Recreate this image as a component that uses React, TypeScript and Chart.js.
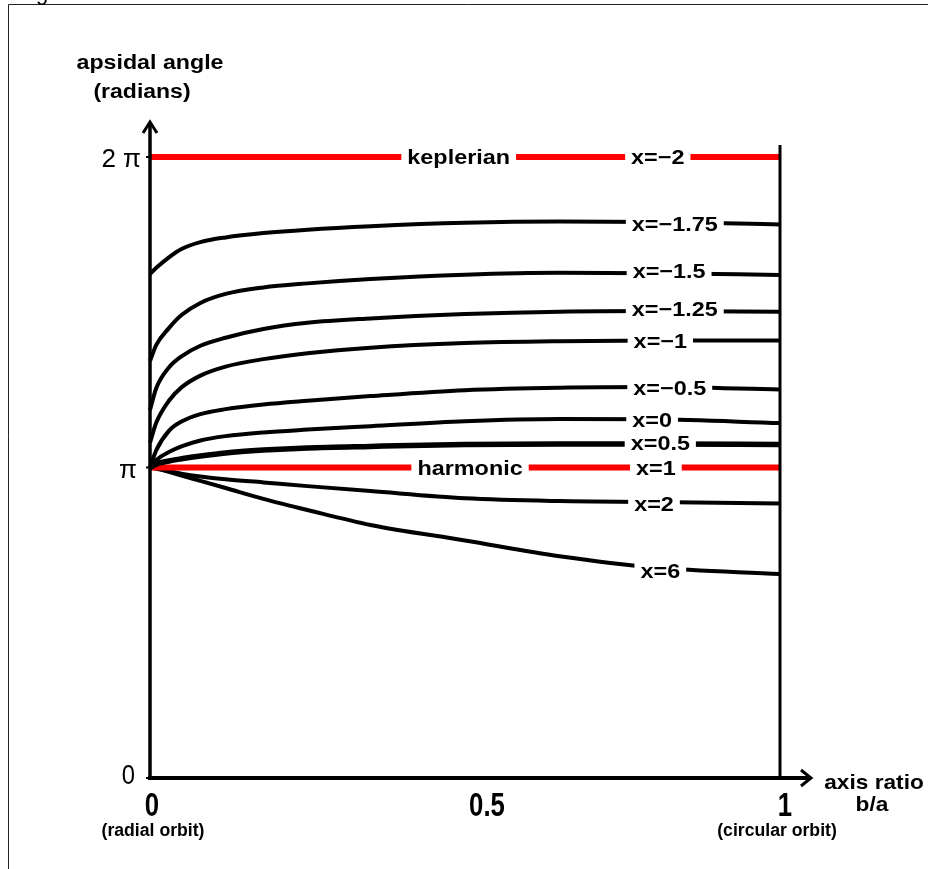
import React, { useEffect, useRef } from 'react';
import { Chart, registerables } from 'chart.js';
Chart.register(...registerables);

// b/a axis ratio sample positions
const BA = [0, 0.01, 0.03, 0.05, 0.08, 0.12, 0.18, 0.25, 0.35, 0.5, 0.65, 0.8, 1.0];

// apsidal angle in units of pi
const X_M2 = [2, 2, 2, 2, 2, 2, 2, 2, 2, 2, 2, 2, 2];
const X_M175 = [1.623, 1.643, 1.677, 1.704, 1.726, 1.741, 1.755, 1.766, 1.777, 1.788, 1.792, 1.791, 1.783];
const X_M15 = [1.343, 1.395, 1.449, 1.491, 1.530, 1.559, 1.580, 1.593, 1.607, 1.621, 1.627, 1.626, 1.620];
const X_M125 = [1.185, 1.256, 1.322, 1.358, 1.392, 1.418, 1.446, 1.466, 1.480, 1.494, 1.502, 1.504, 1.502];
const X_M1 = [1.08, 1.145, 1.215, 1.258, 1.296, 1.325, 1.349, 1.368, 1.386, 1.401, 1.407, 1.409, 1.409];
const X_M05 = [1.0, 1.056, 1.118, 1.148, 1.172, 1.188, 1.203, 1.215, 1.230, 1.249, 1.257, 1.259, 1.251];
const X_0 = [1.0, 1.024, 1.050, 1.068, 1.087, 1.101, 1.113, 1.122, 1.133, 1.149, 1.156, 1.155, 1.143];
const X_05 = [1.0, 1.011, 1.021, 1.028, 1.037, 1.047, 1.056, 1.063, 1.068, 1.074, 1.076, 1.076, 1.074];
const X_1 = [1, 1, 1, 1, 1, 1, 1, 1, 1, 1, 1, 1, 1];
const X_2 = [1.0, 0.996, 0.988, 0.980, 0.971, 0.962, 0.952, 0.940, 0.924, 0.901, 0.892, 0.889, 0.884];
const X_6 = [1.0, 0.998, 0.986, 0.974, 0.957, 0.934, 0.899, 0.863, 0.815, 0.765, 0.714, 0.678, 0.657];

const SERIES = [
  { name: 'x=−2', values: X_M2, color: '#ff0000', width: 6 },
  { name: 'x=−1.75', values: X_M175, color: '#000000', width: 4 },
  { name: 'x=−1.5', values: X_M15, color: '#000000', width: 4 },
  { name: 'x=−1.25', values: X_M125, color: '#000000', width: 4 },
  { name: 'x=−1', values: X_M1, color: '#000000', width: 4 },
  { name: 'x=−0.5', values: X_M05, color: '#000000', width: 4 },
  { name: 'x=0', values: X_0, color: '#000000', width: 4 },
  { name: 'x=0.5', values: X_05, color: '#000000', width: 5.5 },
  { name: 'x=1', values: X_1, color: '#ff0000', width: 6 },
  { name: 'x=2', values: X_2, color: '#000000', width: 4 },
  { name: 'x=6', values: X_6, color: '#000000', width: 4 },
];

// in-line labels (text, b/a position, value in pi)
const LABEL_TEXT = ['keplerian', 'x=−2', 'x=−1.75', 'x=−1.5', 'x=−1.25', 'x=−1', 'x=−0.5', 'x=0', 'x=0.5', 'harmonic', 'x=1', 'x=2', 'x=6'];
const LABEL_BA = [0.49, 0.806, 0.833, 0.824, 0.833, 0.81, 0.825, 0.797, 0.81, 0.508, 0.803, 0.8, 0.81];
const LABEL_Y = [2, 2, 1.784, 1.633, 1.51, 1.407, 1.256, 1.153, 1.079, 1, 1, 0.882, 0.667];

const Y_TICKS = [0, 1, 2];
const Y_TICK_LABELS = ['0', 'π', '2 π'];
const X_TICKS = [0, 0.5, 1];
const X_TICK_LABELS = ['0', '0.5', '1'];
const X_TICK_NOTES = ['(radial orbit)', '', '(circular orbit)'];

const FONT = '"Liberation Sans", Arial, sans-serif';

function drawText(ctx: CanvasRenderingContext2D, s: string, x: number, y: number, font: string, align: string, sx: number) {
  ctx.save();
  ctx.font = font;
  ctx.textAlign = 'left';
  ctx.textBaseline = 'alphabetic';
  ctx.fillStyle = '#000';
  const w = ctx.measureText(s).width * sx;
  const left = align === 'center' ? x - w / 2 : align === 'right' ? x - w : x;
  ctx.translate(left, y);
  ctx.scale(sx, 1);
  ctx.fillText(s, 0, 0);
  ctx.restore();
  return w;
}

const annotPlugin = {
  id: 'annot',
  beforeDraw(chart: any) {
    const ctx = chart.ctx;
    ctx.save();
    ctx.fillStyle = '#fff';
    ctx.fillRect(0, 0, chart.width, chart.height);
    ctx.restore();
  },
  afterDatasetsDraw(chart: any) {
    const ctx: CanvasRenderingContext2D = chart.ctx;
    const xs = chart.scales.x;
    const ys = chart.scales.y;
    const x0 = xs.getPixelForValue(0);
    const x1 = xs.getPixelForValue(1);
    const y0 = ys.getPixelForValue(0);
    const y2 = ys.getPixelForValue(2);

    // frame remnants
    ctx.save();
    ctx.strokeStyle = '#222';
    ctx.lineWidth = 1;
    ctx.beginPath();
    ctx.moveTo(8.5, chart.height);
    ctx.lineTo(8.5, 4.5);
    ctx.lineTo(chart.width, 4.5);
    ctx.stroke();
    ctx.restore();
    drawText(ctx, 'g', 36, 0, `22px ${FONT}`, 'left', 1);

    // in-line labels with white boxes
    const labelFont = `bold 20px ${FONT}`;
    const sxL = 1.17;
    for (let i = 0; i < LABEL_TEXT.length; i++) {
      const cx = xs.getPixelForValue(LABEL_BA[i]);
      const cy = ys.getPixelForValue(LABEL_Y[i]);
      ctx.save();
      ctx.font = labelFont;
      const w = ctx.measureText(LABEL_TEXT[i]).width * sxL;
      ctx.fillStyle = '#fff';
      ctx.fillRect(cx - w / 2 - 6, cy - 9, w + 12, 18);
      ctx.restore();
      drawText(ctx, LABEL_TEXT[i], cx, cy + 7, labelFont, 'center', sxL);
    }

    ctx.save();
    ctx.strokeStyle = '#000';
    ctx.lineCap = 'butt';
    // right vertical line (b/a = 1)
    ctx.lineWidth = 3;
    ctx.beginPath();
    ctx.moveTo(x1, y2 - 12);
    ctx.lineTo(x1, y0);
    ctx.stroke();
    // y axis with arrow
    ctx.lineWidth = 3.5;
    ctx.beginPath();
    ctx.moveTo(x0, y0 + 2);
    ctx.lineTo(x0, y2 - 34);
    ctx.stroke();
    ctx.lineWidth = 3;
    ctx.beginPath();
    ctx.moveTo(x0 - 7, y2 - 24);
    ctx.lineTo(x0, y2 - 35);
    ctx.lineTo(x0 + 7, y2 - 24);
    ctx.stroke();
    // x axis with arrow
    ctx.lineWidth = 4;
    ctx.beginPath();
    ctx.moveTo(x0 - 2, y0);
    ctx.lineTo(x1 + 30, y0);
    ctx.stroke();
    ctx.lineWidth = 3;
    ctx.beginPath();
    ctx.moveTo(x1 + 21, y0 - 8);
    ctx.lineTo(x1 + 31, y0);
    ctx.lineTo(x1 + 21, y0 + 8);
    ctx.stroke();
    // small ticks on y axis
    ctx.lineWidth = 2;
    for (const t of Y_TICKS) {
      const py = ys.getPixelForValue(t);
      ctx.beginPath();
      ctx.moveTo(x0 - 4, py);
      ctx.lineTo(x0, py);
      ctx.stroke();
    }
    ctx.restore();

    // y tick labels
    const yTickFonts = [`28px ${FONT}`, `26px ${FONT}`, `26px ${FONT}`];
    const yTickBase = [6, 10, 10];
    const yTickRight = [x0 - 15, x0 - 13, x0 - 9];
    for (let i = 0; i < Y_TICKS.length; i++) {
      const py = ys.getPixelForValue(Y_TICKS[i]);
      drawText(ctx, Y_TICK_LABELS[i], yTickRight[i], py + yTickBase[i], yTickFonts[i], 'right', i === 0 ? 0.85 : 1);
    }

    // x tick labels
    const xTickShift = [2, 22, 5];
    for (let i = 0; i < X_TICKS.length; i++) {
      const px = xs.getPixelForValue(X_TICKS[i]) + xTickShift[i];
      drawText(ctx, X_TICK_LABELS[i], px, y0 + 38, `bold 33px ${FONT}`, 'center', 0.78);
      if (X_TICK_NOTES[i]) {
        drawText(ctx, X_TICK_NOTES[i], xs.getPixelForValue(X_TICKS[i]) + (i === 0 ? 3 : -3), y0 + 58, `bold 18px ${FONT}`, 'center', 0.98);
      }
    }

    // axis titles
    const tFont = `bold 20px ${FONT}`;
    drawText(ctx, 'apsidal angle', x0, 69, tFont, 'center', 1.16);
    drawText(ctx, '(radians)', x0 - 8, 98, tFont, 'center', 1.15);
    drawText(ctx, 'axis ratio', x1 + 94, y0 + 11, `bold 21px ${FONT}`, 'center', 1.08);
    drawText(ctx, 'b/a', x1 + 92, y0 + 33, `bold 21px ${FONT}`, 'center', 1.08);
  },
};

export default function App() {
  const ref = useRef<HTMLCanvasElement>(null);
  useEffect(() => {
    const chart = new Chart(ref.current as HTMLCanvasElement, {
      type: 'line',
      data: {
        datasets: SERIES.map((s) => ({
          label: s.name,
          data: BA.map((b, i) => ({ x: b, y: s.values[i] })),
          borderColor: s.color,
          backgroundColor: s.color,
          borderWidth: s.width,
          pointRadius: 0,
          tension: 0.4,
          cubicInterpolationMode: 'monotone' as const,
          fill: false,
          clip: false as any,
        })),
      },
      options: {
        responsive: false,
        animation: false,
        devicePixelRatio: 1,
        layout: { padding: { left: 150, right: 148, top: 157, bottom: 91 } },
        plugins: { legend: { display: false }, tooltip: { enabled: false } },
        scales: {
          x: { type: 'linear', min: 0, max: 1, display: false },
          y: { type: 'linear', min: 0, max: 2, display: false },
        },
      },
      plugins: [annotPlugin],
    } as any);
    return () => chart.destroy();
  }, []);
  return (
    <div style={{ position: 'absolute', left: 0, top: 0, width: 928, height: 869, background: '#fff' }}>
      <canvas ref={ref} width={928} height={869} style={{ display: 'block' }} />
    </div>
  );
}
